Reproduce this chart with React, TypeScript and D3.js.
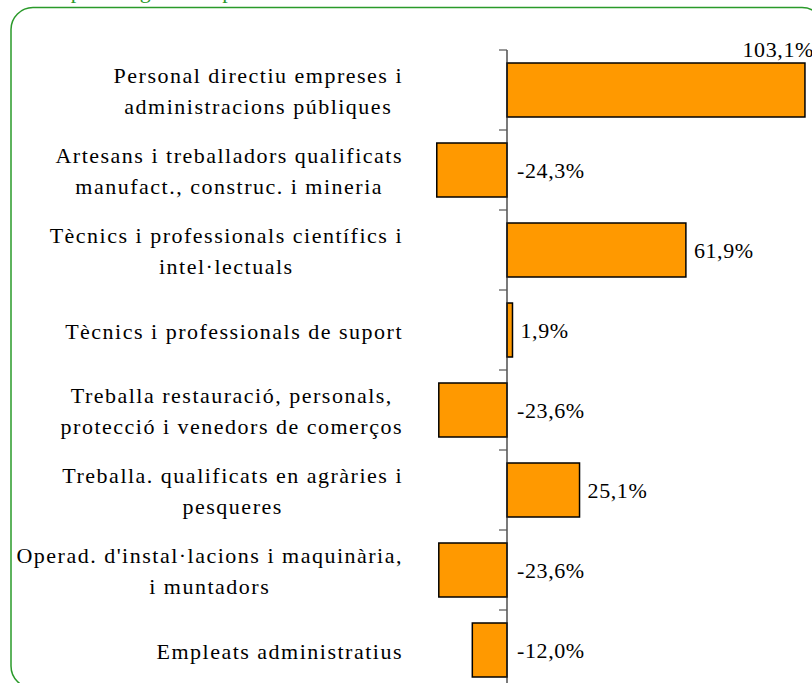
import React, { useEffect, useRef } from "react";
import * as d3 from "d3";

const categories: string[] = [
  "Personal directiu empreses i\nadministracions públiques",
  "Artesans i treballadors qualificats\nmanufact., construc. i mineria",
  "Tècnics i professionals científics i\nintel·lectuals",
  "Tècnics i professionals de suport",
  "Treballa restauració, personals,\nprotecció i venedors de comerços",
  "Treballa. qualificats en agràries i\npesqueres",
  "Operad. d'instal·lacions i maquinària,\ni muntadors",
  "Empleats administratius",
];
const values: number[] = [103.1, -24.3, 61.9, 1.9, -23.6, 25.1, -23.6, -12.0];
const titleText = "Variació per categoria ocupacional";

const W = 812;
const H = 683;
const FONT = "Liberation Serif, Times New Roman, serif";
const GREEN = "#2a9a2a";
const BAR = "#ff9900";

export default function App() {
  const ref = useRef<SVGSVGElement | null>(null);

  useEffect(() => {
    const svg = d3.select(ref.current);
    svg.selectAll("*").remove();

    const x = d3.scaleLinear().domain([-40, 120]).range([391.4, 853.8]);
    const y = d3
      .scaleBand<number>()
      .domain(d3.range(categories.length))
      .range([50, 690])
      .paddingInner(0.325)
      .paddingOuter(0.1625);
    const step = y.step();
    const x0 = x(0);

    // border
    svg
      .append("rect")
      .attr("x", 11)
      .attr("y", 7.5)
      .attr("width", 813)
      .attr("height", 680.5)
      .attr("rx", 22)
      .attr("ry", 22)
      .attr("fill", "none")
      .attr("stroke", GREEN)
      .attr("stroke-width", 1.5);

    // partially visible title (cut off at the top like the reference)
    svg
      .append("text")
      .attr("x", -8)
      .attr("y", -2)
      .attr("font-family", FONT)
      .attr("font-size", 22)
      .attr("fill", GREEN)
      .text(titleText);

    // bars
    svg
      .append("g")
      .selectAll("rect")
      .data(values)
      .join("rect")
      .attr("x", (d) => Math.min(x(d), x0))
      .attr("y", (_, i) => y(i)!)
      .attr("width", (d) => Math.abs(x(d) - x0))
      .attr("height", y.bandwidth())
      .attr("fill", BAR)
      .attr("stroke", "#000")
      .attr("stroke-width", 1.5);

    // axis line and ticks
    const [r0, r1] = y.range();
    svg
      .append("line")
      .attr("x1", x0)
      .attr("x2", x0)
      .attr("y1", r0)
      .attr("y2", r1)
      .attr("stroke", "#222")
      .attr("stroke-width", 1.2);
    const tickYs = d3.range(categories.length + 1).map((i) => r0 + i * step);
    svg
      .append("g")
      .selectAll("line")
      .data(tickYs)
      .join("line")
      .attr("x1", x0 - 8)
      .attr("x2", x0)
      .attr("y1", (d) => d)
      .attr("y2", (d) => d)
      .attr("stroke", "#555")
      .attr("stroke-width", 1.2);

    // category labels
    const lineH = 31;
    const labelRight = 403;
    categories.forEach((cat, i) => {
      const lines = cat.split("\n");
      const yc = y(i)! + y.bandwidth() / 2;
      const g = svg.append("g");
      const texts = lines.map((ln, j) =>
        g
          .append("text")
          .attr("x", 0)
          .attr("y", yc - ((lines.length - 1) * lineH) / 2 + j * lineH + 8.5)
          .attr("font-family", FONT)
          .attr("font-size", 22)
          .attr("letter-spacing", 1.5)
          .attr("fill", "#000")
          .attr("text-anchor", "start")
          .text(ln)
      );
      const widths = texts.map((t) => (t.node() as SVGTextElement).getBBox().width);
      const maxW = d3.max(widths) || 0;
      texts.forEach((t, j) => t.attr("x", labelRight - maxW / 2 - widths[j] / 2));
    });

    // value labels
    values.forEach((v, i) => {
      const yc = y(i)! + y.bandwidth() / 2;
      const label = v.toFixed(1).replace(".", ",") + "%";
      const t = svg
        .append("text")
        .attr("font-family", FONT)
        .attr("font-size", 22)
        .attr("letter-spacing", 0.6)
        .attr("fill", "#000")
        .text(label);
      if (v >= 0) {
        const tx = x(v) + 8;
        t.attr("x", tx).attr("y", yc + 8);
        const w = (t.node() as SVGTextElement).getBBox().width;
        if (tx + w > W) {
          t.attr("x", x(v) + 9)
            .attr("text-anchor", "end")
            .attr("y", y(i)! - 6);
        }
      } else {
        t.attr("x", x0 + 10).attr("y", yc + 8);
      }
    });
  }, []);

  return (
    <svg
      ref={ref}
      width={W}
      height={H}
      style={{ position: "absolute", left: 0, top: 0, display: "block", background: "#fff" }}
    />
  );
}
